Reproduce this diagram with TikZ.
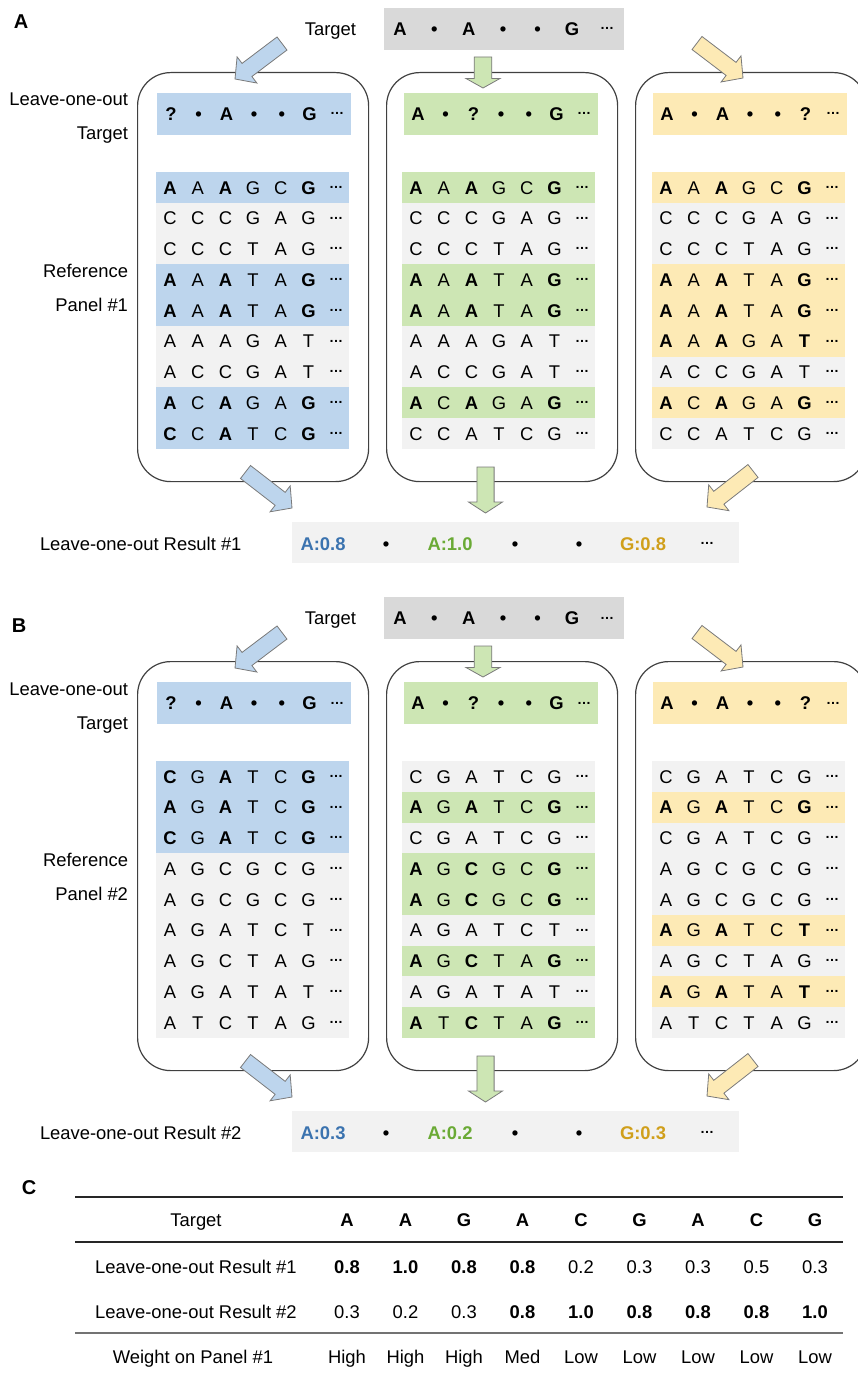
\documentclass[tikz,border=0pt]{standalone}
\usepackage{fontspec}
\setmainfont{Liberation Sans}
\usetikzlibrary{calc}
\definecolor{bluehl}{HTML}{BDD5ED}
\definecolor{greenhl}{HTML}{CDE6B4}
\definecolor{yellowhl}{HTML}{FDEAB5}
\definecolor{rowgray}{HTML}{F2F2F2}
\definecolor{targetgray}{HTML}{D9D9D9}
\definecolor{bluetxt}{HTML}{3B73AF}
\definecolor{greentxt}{HTML}{6AAA35}
\definecolor{goldtxt}{HTML}{D09F1B}
\definecolor{framegray}{HTML}{404040}
\definecolor{arrowline}{HTML}{7A7A7A}
\tikzset{
  t/.style={inner sep=0pt, outer sep=0pt, anchor=base, font=\fontsize{18.4}{22}\selectfont},
  tb/.style={t, font=\fontsize{18.4}{22}\selectfont\bfseries},
  plab/.style={t, font=\fontsize{20}{24}\selectfont\bfseries},
  dots/.style={inner sep=0pt, outer sep=0pt, anchor=base, font=\fontsize{14}{14}\selectfont\bfseries},
  rowbox/.style={anchor=north west, minimum width=193pt, minimum height=30.75pt, inner sep=0pt, outer sep=0pt, draw=none},
  tgtbox/.style={rowbox, minimum width=194pt, minimum height=42pt},
  frame/.style={draw=framegray, line width=1.2pt, rounded corners=33pt, anchor=north west, minimum width=231pt, minimum height=409pt, inner sep=0pt},
  blk/.style={draw=arrowline, line width=0.8pt, line join=miter},
  rulethick/.style={line width=1.5pt, draw=black!85},
  rulethin/.style={line width=1.2pt, draw=black!55},
}
% reference-panel row: name, x0, row index, fill, letters
\newcommand\refrow[5]{%
  \node[rowbox, fill=#4] (#1) at (#2,{172+30.75*(#3-1)}) {};
  \foreach \lt/\bw [count=\k] in {#5}{%
    \node[t] (#1-\k) at ({#2+14+27.7*(\k-1)},{194+30.75*(#3-1)}) {\ifnum\bw=1 \bfseries\fi\lt};
  }
  \node[dots] (#1-e) at ({#2+180},{188.4+30.75*(#3-1)}) {…};
}
% leave-one-out target row: name, x0, fill, letters
\newcommand\tgtrow[4]{%
  \node[tgtbox, fill=#3] (#1) at (#2,93) {};
  \foreach \lt [count=\k] in {#4}{%
    \node[tb] (#1-\k) at ({#2+14+27.7*(\k-1)},120.6) {\lt};
  }
  \node[dots] (#1-e) at ({#2+180},115) {…};
}
% block arrow: name, tail, tip, shaft half width, head half width, head length, fill
\newcommand\blockarrow[7]{%
  \coordinate (#1-tail) at #2;
  \coordinate (#1-tip) at #3;
  \coordinate (#1-base) at ($(#1-tip)!#6pt!(#1-tail)$);
  \draw[blk, fill=#7] ($(#1-tail)!#4pt!90:(#1-tip)$) -- ($(#1-base)!#4pt!90:(#1-tip)$)
    -- ($(#1-base)!#5pt!90:(#1-tip)$) -- (#1-tip) -- ($(#1-base)!#5pt!-90:(#1-tip)$)
    -- ($(#1-base)!#4pt!-90:(#1-tip)$) -- ($(#1-tail)!#4pt!-90:(#1-tip)$) -- cycle;
}
% common parts of panels A and B: prefix, panel number, three results
\newcommand\panelcommon[5]{%
  \node[t, anchor=base east] (#1-tgtlab) at (356,35.6) {Target};
  \node[anchor=north west, fill=targetgray, minimum width=240pt, minimum height=42pt, inner sep=0pt] (#1-tgt) at (384,8) {};
  \foreach \lt [count=\k] in {A,•,A,•,•,G}{%
    \node[tb] (#1-tgt-\k) at ({400+34.4*(\k-1)},35.6) {\lt};
  }
  \node[dots] (#1-tgt-e) at (607,30) {…};
  \node[frame] (#1-box1) at (137,72) {};
  \node[frame] (#1-box2) at (386,72) {};
  \node[frame] (#1-box3) at (635,72) {};
  \node[t, anchor=base east] (#1-loo1) at (128,106) {Leave-one-out};
  \node[t, anchor=base east] (#1-loo2) at (128,140) {Target};
  \node[t, anchor=base east] (#1-ref1) at (128,277) {Reference};
  \node[t, anchor=base east] (#1-ref2) at (128,311.5) {Panel \##2};
  \tgtrow{#1-t1}{157}{bluehl}{?,•,A,•,•,G}
  \tgtrow{#1-t2}{404}{greenhl}{A,•,?,•,•,G}
  \tgtrow{#1-t3}{653}{yellowhl}{A,•,A,•,•,?}
  \node[anchor=north west, fill=rowgray, minimum width=447pt, minimum height=41pt, inner sep=0pt] (#1-res) at (292,522) {};
  \node[t, anchor=base west] (#1-reslab) at (40,550.5) {Leave-one-out Result \##2};
  \node[tb, text=bluetxt] (#1-res-1) at (323,550) {#3};
  \node[tb] (#1-res-2) at (386,550) {•};
  \node[tb, text=greentxt] (#1-res-3) at (450,550) {#4};
  \node[tb] (#1-res-4) at (515,550) {•};
  \node[tb] (#1-res-5) at (579,550) {•};
  \node[tb, text=goldtxt] (#1-res-6) at (643,550) {#5};
  \node[dots] (#1-res-e) at (707,544.5) {…};
}
\newcommand\panelarrows[1]{%
  \blockarrow{#1-ab1}{(282,43.5)}{(235,79)}{8.2}{16.4}{15}{bluehl}
  \blockarrow{#1-ag1}{(483,57)}{(483,88)}{8.8}{17}{9.5}{greenhl}
  \blockarrow{#1-ay1}{(697,43)}{(743,78)}{8.2}{16.4}{15}{yellowhl}
  \blockarrow{#1-ab2}{(245.5,472)}{(292,508)}{8.2}{16.4}{15}{bluehl}
  \blockarrow{#1-ag2}{(485.5,467)}{(485.5,513)}{8.6}{17}{11}{greenhl}
  \blockarrow{#1-ay2}{(753,471)}{(707,507)}{8.2}{16.4}{15}{yellowhl}
}
\begin{document}
\begin{tikzpicture}[x=1pt,y=-1pt]
\useasboundingbox (0,0) rectangle (858,1375);
\clip (0,0) rectangle (858,1375);

% ---------------- Panel A ----------------
\node[plab] (lblA) at (21,28.5) {A};
\begin{scope}
\panelcommon{a}{1}{A:0.8}{A:1.0}{G:0.8}
\refrow{a1r1}{156}{1}{bluehl}{A/1,A/0,A/1,G/0,C/0,G/1}
\refrow{a1r2}{156}{2}{rowgray}{C/0,C/0,C/0,G/0,A/0,G/0}
\refrow{a1r3}{156}{3}{rowgray}{C/0,C/0,C/0,T/0,A/0,G/0}
\refrow{a1r4}{156}{4}{bluehl}{A/1,A/0,A/1,T/0,A/0,G/1}
\refrow{a1r5}{156}{5}{bluehl}{A/1,A/0,A/1,T/0,A/0,G/1}
\refrow{a1r6}{156}{6}{rowgray}{A/0,A/0,A/0,G/0,A/0,T/0}
\refrow{a1r7}{156}{7}{rowgray}{A/0,C/0,C/0,G/0,A/0,T/0}
\refrow{a1r8}{156}{8}{bluehl}{A/1,C/0,A/1,G/0,A/0,G/1}
\refrow{a1r9}{156}{9}{bluehl}{C/1,C/0,A/1,T/0,C/0,G/1}
\refrow{a2r1}{402}{1}{greenhl}{A/1,A/0,A/1,G/0,C/0,G/1}
\refrow{a2r2}{402}{2}{rowgray}{C/0,C/0,C/0,G/0,A/0,G/0}
\refrow{a2r3}{402}{3}{rowgray}{C/0,C/0,C/0,T/0,A/0,G/0}
\refrow{a2r4}{402}{4}{greenhl}{A/1,A/0,A/1,T/0,A/0,G/1}
\refrow{a2r5}{402}{5}{greenhl}{A/1,A/0,A/1,T/0,A/0,G/1}
\refrow{a2r6}{402}{6}{rowgray}{A/0,A/0,A/0,G/0,A/0,T/0}
\refrow{a2r7}{402}{7}{rowgray}{A/0,C/0,C/0,G/0,A/0,T/0}
\refrow{a2r8}{402}{8}{greenhl}{A/1,C/0,A/1,G/0,A/0,G/1}
\refrow{a2r9}{402}{9}{rowgray}{C/0,C/0,A/0,T/0,C/0,G/0}
\refrow{a3r1}{652}{1}{yellowhl}{A/1,A/0,A/1,G/0,C/0,G/1}
\refrow{a3r2}{652}{2}{rowgray}{C/0,C/0,C/0,G/0,A/0,G/0}
\refrow{a3r3}{652}{3}{rowgray}{C/0,C/0,C/0,T/0,A/0,G/0}
\refrow{a3r4}{652}{4}{yellowhl}{A/1,A/0,A/1,T/0,A/0,G/1}
\refrow{a3r5}{652}{5}{yellowhl}{A/1,A/0,A/1,T/0,A/0,G/1}
\refrow{a3r6}{652}{6}{yellowhl}{A/1,A/0,A/1,G/0,A/0,T/1}
\refrow{a3r7}{652}{7}{rowgray}{A/0,C/0,C/0,G/0,A/0,T/0}
\refrow{a3r8}{652}{8}{yellowhl}{A/1,C/0,A/1,G/0,A/0,G/1}
\refrow{a3r9}{652}{9}{rowgray}{C/0,C/0,A/0,T/0,C/0,G/0}
\panelarrows{a}
\end{scope}

% ---------------- Panel B ----------------
\node[plab] (lblB) at (19,632.5) {B};
\begin{scope}[shift={(0,589)}]
\panelcommon{b}{2}{A:0.3}{A:0.2}{G:0.3}
\refrow{b1r1}{156}{1}{bluehl}{C/1,G/0,A/1,T/0,C/0,G/1}
\refrow{b1r2}{156}{2}{bluehl}{A/1,G/0,A/1,T/0,C/0,G/1}
\refrow{b1r3}{156}{3}{bluehl}{C/1,G/0,A/1,T/0,C/0,G/1}
\refrow{b1r4}{156}{4}{rowgray}{A/0,G/0,C/0,G/0,C/0,G/0}
\refrow{b1r5}{156}{5}{rowgray}{A/0,G/0,C/0,G/0,C/0,G/0}
\refrow{b1r6}{156}{6}{rowgray}{A/0,G/0,A/0,T/0,C/0,T/0}
\refrow{b1r7}{156}{7}{rowgray}{A/0,G/0,C/0,T/0,A/0,G/0}
\refrow{b1r8}{156}{8}{rowgray}{A/0,G/0,A/0,T/0,A/0,T/0}
\refrow{b1r9}{156}{9}{rowgray}{A/0,T/0,C/0,T/0,A/0,G/0}
\refrow{b2r1}{402}{1}{rowgray}{C/0,G/0,A/0,T/0,C/0,G/0}
\refrow{b2r2}{402}{2}{greenhl}{A/1,G/0,A/1,T/0,C/0,G/1}
\refrow{b2r3}{402}{3}{rowgray}{C/0,G/0,A/0,T/0,C/0,G/0}
\refrow{b2r4}{402}{4}{greenhl}{A/1,G/0,C/1,G/0,C/0,G/1}
\refrow{b2r5}{402}{5}{greenhl}{A/1,G/0,C/1,G/0,C/0,G/1}
\refrow{b2r6}{402}{6}{rowgray}{A/0,G/0,A/0,T/0,C/0,T/0}
\refrow{b2r7}{402}{7}{greenhl}{A/1,G/0,C/1,T/0,A/0,G/1}
\refrow{b2r8}{402}{8}{rowgray}{A/0,G/0,A/0,T/0,A/0,T/0}
\refrow{b2r9}{402}{9}{greenhl}{A/1,T/0,C/1,T/0,A/0,G/1}
\refrow{b3r1}{652}{1}{rowgray}{C/0,G/0,A/0,T/0,C/0,G/0}
\refrow{b3r2}{652}{2}{yellowhl}{A/1,G/0,A/1,T/0,C/0,G/1}
\refrow{b3r3}{652}{3}{rowgray}{C/0,G/0,A/0,T/0,C/0,G/0}
\refrow{b3r4}{652}{4}{rowgray}{A/0,G/0,C/0,G/0,C/0,G/0}
\refrow{b3r5}{652}{5}{rowgray}{A/0,G/0,C/0,G/0,C/0,G/0}
\refrow{b3r6}{652}{6}{yellowhl}{A/1,G/0,A/1,T/0,C/0,T/1}
\refrow{b3r7}{652}{7}{rowgray}{A/0,G/0,C/0,T/0,A/0,G/0}
\refrow{b3r8}{652}{8}{yellowhl}{A/1,G/0,A/1,T/0,A/0,T/1}
\refrow{b3r9}{652}{9}{rowgray}{A/0,T/0,C/0,T/0,A/0,G/0}
\panelarrows{b}
\end{scope}

% ---------------- Panel C ----------------
\node[plab] (lblC) at (29,1194.5) {C};
\draw[rulethick] (75,1197) -- (843,1197);
\draw[rulethick] (75,1242) -- (843,1242);
\draw[rulethin] (75,1333) -- (843,1333);
\node[t] (c-h) at (196,1226.6) {Target};
\node[t] (c-r1) at (196,1273.3) {Leave-one-out Result \#1};
\node[t] (c-r2) at (196,1318.3) {Leave-one-out Result \#2};
\node[t] (c-r3) at (193,1363.3) {Weight on Panel \#1};
\foreach \v [count=\k] in {A,A,G,A,C,G,A,C,G}{
  \node[tb] (c-h-\k) at ({347+58.5*(\k-1)},1226.6) {\v};
}
\foreach \v/\bw [count=\k] in {0.8/1,1.0/1,0.8/1,0.8/1,0.2/0,0.3/0,0.3/0,0.5/0,0.3/0}{
  \node[t] (c-r1-\k) at ({347+58.5*(\k-1)},1273.3) {\ifnum\bw=1 \bfseries\fi\v};
}
\foreach \v/\bw [count=\k] in {0.3/0,0.2/0,0.3/0,0.8/1,1.0/1,0.8/1,0.8/1,0.8/1,1.0/1}{
  \node[t] (c-r2-\k) at ({347+58.5*(\k-1)},1318.3) {\ifnum\bw=1 \bfseries\fi\v};
}
\foreach \v [count=\k] in {High,High,High,Med,Low,Low,Low,Low,Low}{
  \node[t] (c-r3-\k) at ({347+58.5*(\k-1)},1363.3) {\v};
}
\end{tikzpicture}
\end{document}
